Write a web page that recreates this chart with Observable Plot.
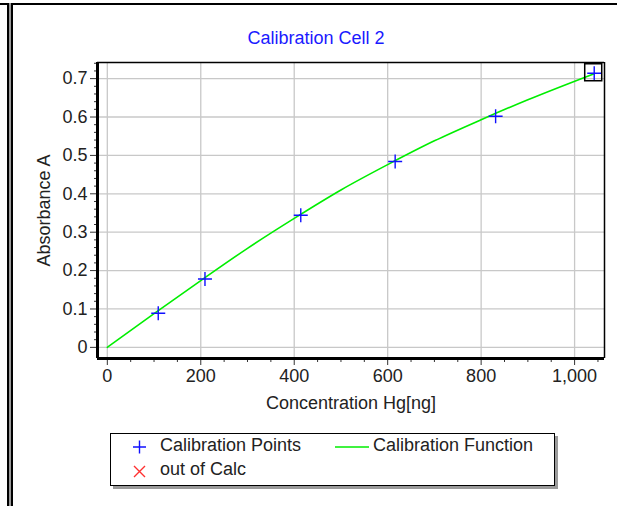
<!DOCTYPE html>
<html>
<head>
<meta charset="utf-8">
<script src="https://cdn.jsdelivr.net/npm/d3@7"></script>
<script src="https://cdn.jsdelivr.net/npm/@observablehq/plot@0.6"></script>
<style>
  html, body { margin: 0; padding: 0; background: #fff; }
  #page { position: relative; width: 617px; height: 506px; overflow: hidden; font-family: "Liberation Sans", Arial, sans-serif; background:#fff; }
  #chart { position: absolute; left: 0; top: 0; }
  .abs { position: absolute; }
  #title { left: 0; width: 632px; top: 28px; text-align: center; color: #1a1aff; font-size: 18px; }
  #legend { left: 110px; top: 433px; width: 445px; height: 53px; border: 1.5px solid #000; box-shadow: 3px 3px 0 #9a9a9a; background: #fff; box-sizing: border-box; }
  .ltext { font-size: 18px; color: #222; white-space: nowrap; }
</style>
</head>
<body>
<div id="page">
  <div class="abs" style="left:0;top:3px;width:617px;height:2px;background:#000"></div>
  <div class="abs" style="left:7px;top:3px;width:2px;height:503px;background:#000"></div>
  <div class="abs" style="left:9px;top:3px;width:2px;height:503px;background:#999"></div>
  <div class="abs" style="left:11px;top:3px;width:2px;height:503px;background:#000"></div>
  <div id="chart"></div>
  <div id="title" class="abs">Calibration Cell 2</div>
  <div id="legend" class="abs"></div>
</div>
<script>
// ---- data ----
const pointConc = [109, 209, 414, 616, 831, 1042];
const pointAbs  = [0.089, 0.178, 0.344, 0.484, 0.602, 0.714];
const curveConc = [0, 100, 200, 300, 400, 500, 600, 700, 800, 900, 1042];
const curveAbs  = [0, 0.088, 0.174, 0.258, 0.336, 0.410, 0.476, 0.538, 0.593, 0.645, 0.713];
const selectedConc = [1042];
const selectedAbs  = [0.714];
const xTicks = [0, 200, 400, 600, 800, 1000];
const yTicks = [0, 0.1, 0.2, 0.3, 0.4, 0.5, 0.6, 0.7];
const xMinorTicks = [50,100,150,250,300,350,450,500,550,650,700,750,850,900,950,1050];
const yMinorTicks = [0.02,0.04,0.06,0.08,0.12,0.14,0.16,0.18,0.22,0.24,0.26,0.28,0.32,0.34,0.36,0.38,0.42,0.44,0.46,0.48,0.52,0.54,0.56,0.58,0.62,0.64,0.66,0.68,0.72,0.74];
const xLabel = "Concentration Hg[ng]";
const yLabel = "Absorbance A";

const points = pointConc.map((c, i) => ({c, a: pointAbs[i]}));
const curve = curveConc.map((c, i) => ({c, a: curveAbs[i]}));
const selected = selectedConc.map((c, i) => ({c, a: selectedAbs[i]}));

const xDomain = [-21, 1064];
const yDomain = [-0.029, 0.742];

const plusSymbol = {
  draw(ctx, size) {
    const h = Math.sqrt(size / Math.PI);
    ctx.moveTo(-h, 0); ctx.lineTo(h, 0);
    ctx.moveTo(0, -h); ctx.lineTo(0, h);
  }
};

const chart = Plot.plot({
  width: 617,
  height: 420,
  marginLeft: 97,
  marginRight: 13,
  marginTop: 62,
  marginBottom: 62,
  style: {fontFamily: "'Liberation Sans', Arial, sans-serif", fontSize: "18px", color: "#222", background: "transparent", overflow: "visible"},
  x: {domain: xDomain},
  y: {domain: yDomain},
  marks: [
    Plot.gridX(xTicks, {stroke: "#c8c8c8", strokeOpacity: 1, strokeWidth: 1.3}),
    Plot.gridY(yTicks, {stroke: "#c8c8c8", strokeOpacity: 1, strokeWidth: 1.3}),
    Plot.axisX(xTicks, {tickSize: 7, tickPadding: 4, tickFormat: d3.format(","), stroke: "#333", label: xLabel, labelAnchor: "center", labelArrow: "none", labelOffset: 50}),
    Plot.axisX(xMinorTicks, {tickSize: 4, text: null, label: null, stroke: "#333"}),
    Plot.axisY(yTicks, {tickSize: 7, tickPadding: 3, tickFormat: d => String(d), stroke: "#333", label: yLabel, labelAnchor: "center", labelArrow: "none", labelOffset: 60}),
    Plot.axisY(yMinorTicks, {tickSize: 3, text: null, label: null, stroke: "#333"}),
    Plot.ruleY([yDomain[1]], {stroke: "#000", strokeWidth: 1.5}),
    Plot.ruleX([xDomain[1]], {stroke: "#000", strokeWidth: 1.5}),
    Plot.ruleX([xDomain[0]], {stroke: "#000", strokeWidth: 3}),
    Plot.ruleY([yDomain[0]], {stroke: "#000", strokeWidth: 3}),
    Plot.line(curve, {x: "c", y: "a", stroke: "#00ee00", strokeWidth: 1.6, curve: "monotone-x"}),
    Plot.dot(points, {x: "c", y: "a", symbol: plusSymbol, r: 7, stroke: "#1010ff", strokeWidth: 1.4, fill: "none"}),
    Plot.dot(selected, {x: "c", y: "a", symbol: "square", r: 9.6, stroke: "#000", strokeWidth: 1.5, fill: "none", dx: -1, dy: -1})
  ]
});
document.getElementById("chart").appendChild(chart);

// ---- legend ----
const legendItems = [
  {label: "Calibration Points", kind: "plus", color: "#1010ff", x: 130, y: 447},
  {label: "Calibration Function", kind: "line", color: "#00ee00", x: 335, y: 447},
  {label: "out of Calc", kind: "cross", color: "#ff3030", x: 130, y: 471}
];
const page = document.getElementById("page");
for (const it of legendItems) {
  const ns = "http://www.w3.org/2000/svg";
  const svg = document.createElementNS(ns, "svg");
  const w = it.kind === "line" ? 34 : 18;
  svg.setAttribute("width", w); svg.setAttribute("height", 18);
  svg.setAttribute("class", "abs");
  svg.style.left = it.x + "px"; svg.style.top = (it.y - 9) + "px";
  const p = document.createElementNS(ns, "path");
  let d;
  if (it.kind === "plus") d = "M3,9H16M9.5,2.5V15.5";
  else if (it.kind === "cross") d = "M4,4L15,15M15,4L4,15";
  else d = "M0,9H34";
  p.setAttribute("d", d); p.setAttribute("stroke", it.color);
  p.setAttribute("stroke-width", it.kind === "line" ? 1.6 : 1.4); p.setAttribute("fill", "none");
  svg.appendChild(p);
  page.appendChild(svg);
  const t = document.createElement("div");
  t.className = "abs ltext";
  t.textContent = it.label;
  t.style.left = (it.kind === "line" ? it.x + 38 : it.x + 30) + "px";
  t.style.top = (it.y - 12) + "px";
  page.appendChild(t);
}
</script>
</body>
</html>
